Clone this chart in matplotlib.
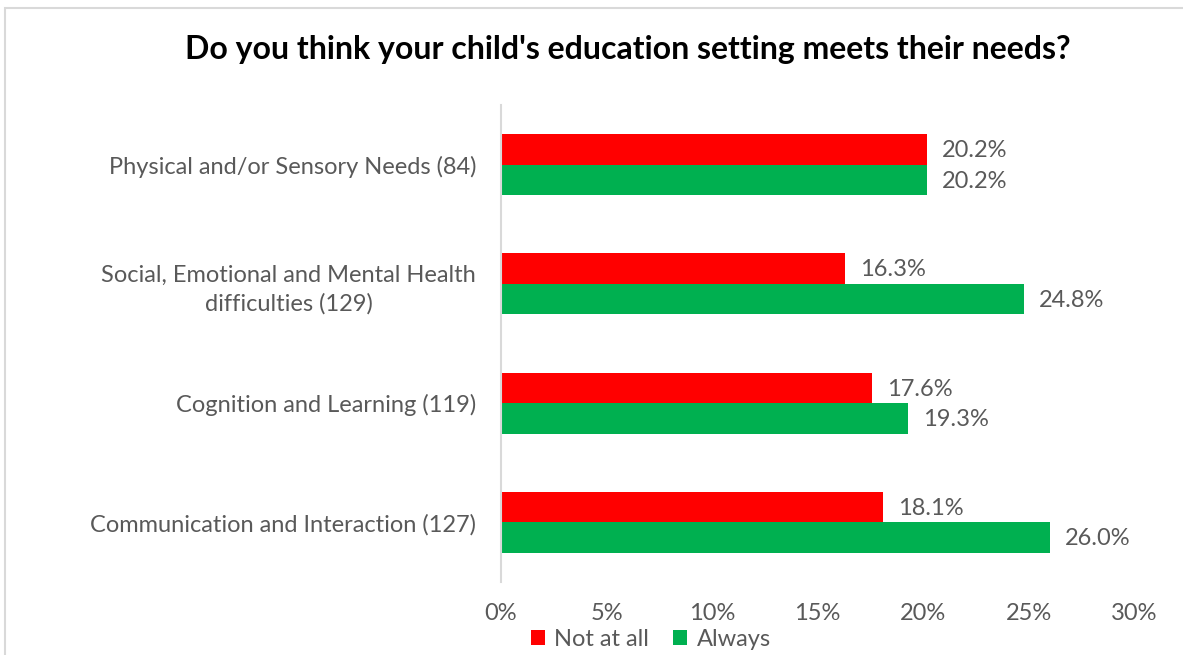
import matplotlib.pyplot as plt
import numpy as np
from matplotlib.patches import Rectangle
from matplotlib.ticker import FuncFormatter

plt.rcParams['font.family'] = ['Lato', 'DejaVu Sans']

categories = [
    "Physical and/or Sensory Needs (84)",
    "Social, Emotional and Mental Health\ndifficulties (129)",
    "Cognition and Learning (119)",
    "Communication and Interaction (127)",
]
not_at_all = [20.2, 16.3, 17.6, 18.1]
always = [20.2, 24.8, 19.3, 26.0]
series_names = ["Not at all", "Always"]

RED = "#FF0000"
GREEN = "#00B050"
GREY_TEXT = "#595959"
GRID = "#D9D9D9"
FS = 17

fig = plt.figure(figsize=(11.83, 6.55), dpi=100)
ax = fig.add_axes([0.4235, 0.1115, 0.5351, 0.7282])

# chart frame, clipped at the right and bottom of the canvas
fig.patches.append(Rectangle((5 / 1183, -0.05), 1.1, 1 - 8 / 655 + 0.05,
                             transform=fig.transFigure, fill=False,
                             edgecolor=GRID, linewidth=1.5))

y = np.arange(len(categories))
h = 0.255
bars_red = ax.barh(y - h / 2, not_at_all, height=h, color=RED, label=series_names[0])
bars_green = ax.barh(y + h / 2, always, height=h, color=GREEN, label=series_names[1])

for bars, vals in ((bars_red, not_at_all), (bars_green, always)):
    for b, v in zip(bars, vals):
        ax.text(v + 0.7, b.get_y() + b.get_height() / 2 + 0.01, f"{v:.1f}%",
                va="center", ha="left", fontsize=FS, color=GREY_TEXT)

ax.set_xlim(0, 30)
ax.set_ylim(len(categories) - 0.5, -0.5)
ax.set_xticks(np.arange(0, 31, 5))
ax.xaxis.set_major_formatter(FuncFormatter(lambda v, _: f"{v:.0f}%"))
ax.set_yticks(y)
ax.set_yticklabels(categories, ha="right", multialignment="center", linespacing=1.45)
ax.tick_params(axis="y", length=0, pad=18, labelsize=FS, labelcolor=GREY_TEXT)
ax.tick_params(axis="x", length=0, pad=15, labelsize=FS, labelcolor=GREY_TEXT)

for side in ("top", "right", "bottom"):
    ax.spines[side].set_visible(False)
ax.spines["left"].set_color(GRID)
ax.spines["left"].set_linewidth(1.5)

fig.text(0.531, 0.925, "Do you think your child's education setting meets their needs?",
         ha="center", va="center", fontsize=23, fontweight="bold", color="black")

fig.legend(handles=[bars_red, bars_green], labels=series_names,
           loc="center", bbox_to_anchor=(0.55, 0.024), ncol=2, frameon=False,
           fontsize=FS, handlelength=0.6, handleheight=0.6, handletextpad=0.4,
           columnspacing=1.0, labelcolor=GREY_TEXT, borderpad=0.1)

fig.savefig("out.png", dpi=100)
